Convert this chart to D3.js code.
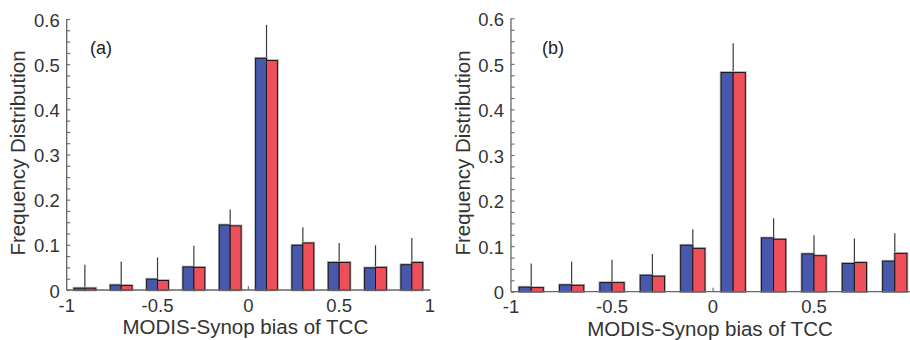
<!DOCTYPE html>
<html>
<head>
<meta charset="utf-8">
<script src="https://cdn.jsdelivr.net/npm/d3@7"></script>
<style>
  body { margin: 0; background: #fff; }
  svg { display: block; font-family: "Liberation Sans", Arial, Helvetica, sans-serif; }
</style>
</head>
<body>
<div id="chart"></div>
<script>
// bin centres of MODIS - Synop bias
const bins = [-0.9, -0.7, -0.5, -0.3, -0.1, 0.1, 0.3, 0.5, 0.7, 0.9];

// panel (a)
const blueA = [0.004, 0.011, 0.024, 0.051, 0.144, 0.513, 0.099, 0.061, 0.049, 0.056];
const redA  = [0.004, 0.010, 0.021, 0.050, 0.142, 0.508, 0.104, 0.061, 0.050, 0.061];
const errA  = [0.056, 0.063, 0.072, 0.098, 0.178, 0.587, 0.139, 0.104, 0.099, 0.115];

// panel (b)
const blueB = [0.010, 0.015, 0.020, 0.036, 0.102, 0.481, 0.118, 0.083, 0.062, 0.067];
const redB  = [0.009, 0.014, 0.020, 0.034, 0.095, 0.481, 0.115, 0.079, 0.064, 0.084];
const errB  = [0.062, 0.066, 0.070, 0.083, 0.137, 0.545, 0.161, 0.124, 0.117, 0.128];

const xTicksA = [-1, -0.5, 0, 0.5, 1];
const xTicksB = [-1, -0.5, 0, 0.5];
const yTicks = [0, 0.1, 0.2, 0.3, 0.4, 0.5, 0.6];

const W = 910, H = 340;
const barW = 0.06;

const svg = d3.select('#chart').append('svg')
  .attr('width', W)
  .attr('height', H);

const panels = [
  { label: '(a)', blue: blueA, red: redA, err: errA, xTicks: xTicksA,
    left: 66.7, right: 430, bottom: 290, top: 19, axisEnd: 430, labX: 90, ylabX: 18 },
  { label: '(b)', blue: blueB, red: redB, err: errB, xTicks: xTicksB,
    left: 511, right: 915, bottom: 291.7, top: 18.3, axisEnd: 910, labX: 542, ylabX: 463 }
];

// plain hyphen for negatives, like the original
const fmt = d => d === 0 ? '0' : (Number.isInteger(d) ? String(d) : d.toFixed(1));

panels.forEach(p => {
  const x = d3.scaleLinear().domain([-1, 1]).range([p.left, p.right]);
  const y = d3.scaleLinear().domain([0, 0.6]).range([p.bottom, p.top]);
  const g = svg.append('g');

  // error bars first (behind bars)
  g.append('g')
    .selectAll('line')
    .data(bins)
    .join('line')
    .attr('x1', d => x(d))
    .attr('x2', d => x(d))
    .attr('y1', (d, i) => y(Math.max(p.blue[i], p.red[i])))
    .attr('y2', (d, i) => y(p.err[i]))
    .attr('stroke', '#3a3a3a')
    .attr('stroke-width', 1.2);

  const series = [
    { vals: p.blue, off: -barW, color: '#4858ac' },
    { vals: p.red, off: 0, color: '#ef4f59' }
  ];

  series.forEach(s => {
    // soft grey halo
    g.append('g')
      .selectAll('rect')
      .data(bins)
      .join('rect')
      .attr('x', d => x(d + s.off))
      .attr('y', (d, i) => y(s.vals[i]))
      .attr('width', x(barW) - x(0))
      .attr('height', (d, i) => y(0) - y(s.vals[i]))
      .attr('fill', 'none')
      .attr('stroke', '#aaa')
      .attr('stroke-width', 2.6);
  });

  series.forEach(s => {
    g.append('g')
      .selectAll('rect')
      .data(bins)
      .join('rect')
      .attr('x', d => x(d + s.off))
      .attr('y', (d, i) => y(s.vals[i]))
      .attr('width', x(barW) - x(0))
      .attr('height', (d, i) => y(0) - y(s.vals[i]))
      .attr('fill', s.color)
      .attr('stroke', '#1a1a1a')
      .attr('stroke-width', 1);
  });

  // y axis: line with inward minor ticks every 0.025
  const yAxis = d3.axisRight(y)
    .tickValues(d3.range(0, 0.6001, 0.025))
    .tickSize(3.5)
    .tickFormat('');
  g.append('g')
    .attr('transform', `translate(${p.left}, 0)`)
    .call(yAxis)
    .call(a => a.select('.domain').attr('stroke', '#666').attr('stroke-width', 1.3)
      .attr('d', `M0,${p.bottom}V${p.top}`))
    .call(a => a.selectAll('.tick line').attr('stroke', '#666').attr('stroke-width', 1.1));

  g.append('g')
    .selectAll('text')
    .data(yTicks)
    .join('text')
    .attr('x', p.left - 7)
    .attr('y', d => y(d) + 1)
    .attr('dy', '0.36em')
    .attr('text-anchor', 'end')
    .attr('fill', '#333')
    .style('font-size', '18.5px')
    .text(fmt);

  // x axis line
  g.append('line')
    .attr('x1', p.left).attr('x2', p.axisEnd)
    .attr('y1', y(0)).attr('y2', y(0))
    .attr('stroke', '#666').attr('stroke-width', 1.3);

  // small tick at 0
  g.append('line')
    .attr('x1', x(0)).attr('x2', x(0))
    .attr('y1', y(0)).attr('y2', y(0) - 4)
    .attr('stroke', '#666').attr('stroke-width', 1.1);

  g.append('g')
    .selectAll('text')
    .data(p.xTicks)
    .join('text')
    .attr('x', d => x(d))
    .attr('y', p.bottom + 21.5)
    .attr('text-anchor', 'middle')
    .attr('fill', '#333')
    .style('font-size', '18.5px')
    .text(fmt);

  // axis titles
  g.append('text')
    .attr('x', x(0) - 3)
    .attr('y', p.bottom + 44)
    .attr('text-anchor', 'middle')
    .attr('fill', '#333')
    .style('font-size', '20.5px')
    .text('MODIS-Synop bias of TCC');

  g.append('text')
    .attr('transform', `translate(${p.ylabX}, 153) rotate(-90)`)
    .attr('dy', '0.36em')
    .attr('text-anchor', 'middle')
    .attr('fill', '#333')
    .style('font-size', '20.5px')
    .text('Frequency Distribution');

  g.append('text')
    .attr('x', p.labX)
    .attr('y', 54)
    .attr('fill', '#222')
    .style('font-size', '18px')
    .text(p.label);
});
</script>
</body>
</html>
